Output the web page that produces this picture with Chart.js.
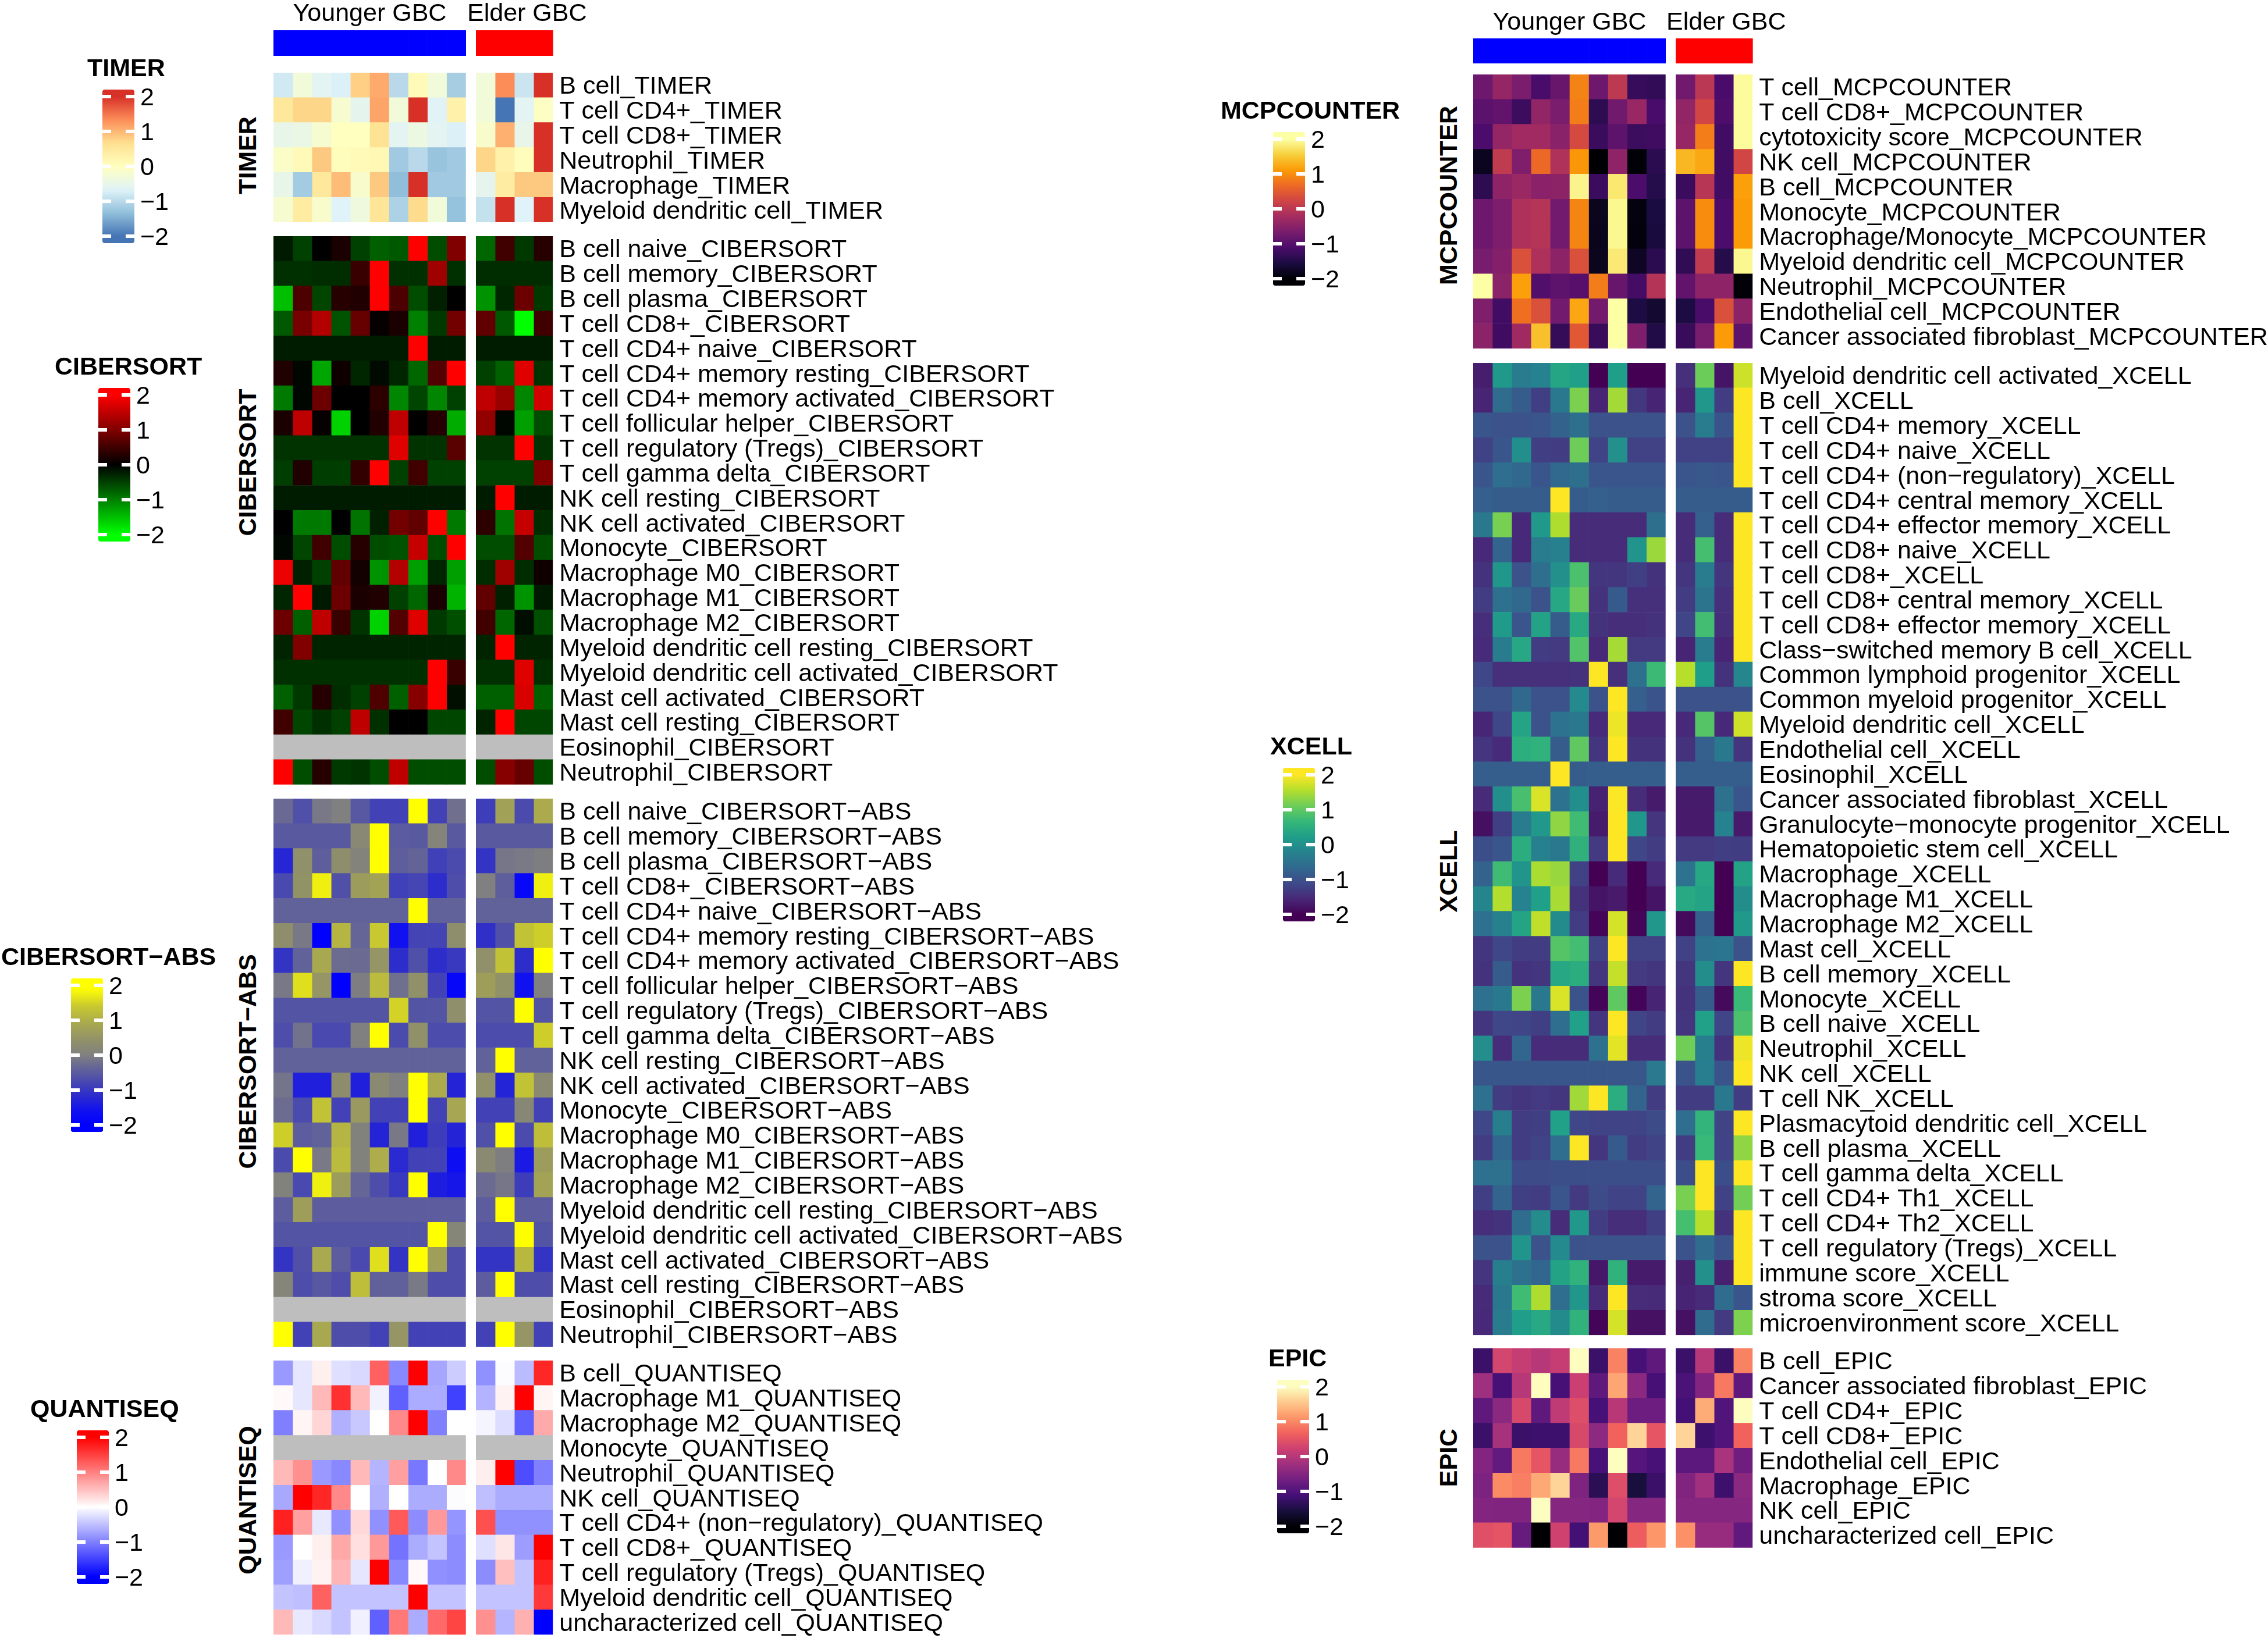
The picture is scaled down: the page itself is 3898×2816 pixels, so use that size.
<!DOCTYPE html>
<html>
<head>
<meta charset="utf-8">
<script src="https://cdn.jsdelivr.net/npm/chart.js@4"></script>
<style>
  html, body { margin: 0; background: #fff; width: 3898px; height: 2816px; overflow: hidden; }
  canvas { position: absolute; }
  .side { position: absolute; font: bold 43px "Liberation Sans"; white-space: nowrap; color: #000;
          transform: translate(-50%, -50%) rotate(-90deg); }
</style>
</head>
<body>
<script>
// ── data ─────────────────────────────────────────────────────────────────────
// z-scores, 10 Younger GBC columns then 4 Elder GBC columns. null = no data (grey).
const legendTicks = [2, 1, 0, -1, -2];

const timerCells = ['B cell', 'T cell CD4+', 'T cell CD8+', 'Neutrophil', 'Macrophage', 'Myeloid dendritic cell'];
const timerValues = [
  [-.8, -.3, -.6, -.7, .8, 1.1, -1, .1, -.3, -1.15, -.3, 1.33, -.85, 2],
  [.5, .75, .75, -.2, -.55, 1.15, -.3, 2, -.65, .3, -.3, -2, -.6, -.05],
  [-.5, -.45, -.2, 0, 0, .6, -.6, -.4, -.6, -.7, -.15, 1.05, -.5, 2],
  [-.1, .1, .85, .05, .1, .15, -1.2, -1, -1.27, -1.2, .75, .3, .05, 2],
  [-.5, -1.18, .5, .95, -.15, .85, -1.33, 2, -1.2, -1.2, -.55, .4, .85, .85],
  [-.2, .4, -.15, -.67, -.35, .55, -1.1, .7, -.3, -1.3, -.9, 2, -.67, 2],
];

const cibersortCells = ['B cell naive', 'B cell memory', 'B cell plasma', 'T cell CD8+', 'T cell CD4+ naive',
  'T cell CD4+ memory resting', 'T cell CD4+ memory activated', 'T cell follicular helper',
  'T cell regulatory (Tregs)', 'T cell gamma delta', 'NK cell resting', 'NK cell activated', 'Monocyte',
  'Macrophage M0', 'Macrophage M1', 'Macrophage M2', 'Myeloid dendritic cell resting',
  'Myeloid dendritic cell activated', 'Mast cell activated', 'Mast cell resting', 'Eosinophil', 'Neutrophil'];
const naRow = Array(14).fill(null);
const cibersortValues = [
  [-.2, -.5, 0, .2, -.5, -.75, -.7, 2, -.6, 1, -.8, .5, -.45, .3],
  [-.38, -.38, -.35, -.35, .45, 2, -.38, -.38, 1.25, -.38, -.35, -.35, -.35, -.35],
  [-1.5, .6, -.55, .3, .25, 2, .6, -.6, -.25, 0, -1.15, -.3, .85, -.45],
  [-.7, .95, 1.4, -.65, .8, .05, .2, -1, -.45, .9, .75, -.7, -2, .5],
  [-.22, -.22, -.22, -.22, -.22, -.22, -.22, 2, -.22, -.22, -.22, -.22, -.22, -.22],
  [.25, -.05, -1.3, .12, -.3, -.08, -.3, -.8, .65, 2, -.5, -.75, 1.75, -.4],
  [-.95, -.05, .85, 0, 0, .35, -1.05, -.55, -1.05, -.5, 1.5, 1.2, -1.05, 1.65],
  [.2, 1.5, .05, -1.65, 0, .25, 1.5, 0, .3, -1.35, 1.15, -.05, -1.25, -.6],
  [-.4, -.4, -.4, -.4, -.4, -.4, 1.75, -.4, -.4, .7, -.4, -.4, 2, -.4],
  [-.48, .25, -.48, -.48, .4, 2, -.5, .5, -.5, -.5, -.5, -.5, -.5, 1],
  [-.22, -.22, -.22, -.22, -.22, -.22, -.22, -.22, -.22, -.22, -.22, 2, -.22, -.22],
  [0, -.95, -.95, 0, -.9, -.25, .9, .75, 2, -.95, .35, -.9, 1.55, -.35],
  [-.05, -.55, .5, -.6, .3, -.6, -.65, 1.55, -.6, 2, -.6, -.6, .65, -.6],
  [1.85, -.25, -.5, .75, .15, -1.15, 1.4, -1.25, -.3, -1.25, -.35, 1.25, -.35, .12],
  [-.3, 2, -.2, .85, .2, .25, -.5, -.8, .2, -1.4, .75, -.25, -1.15, -.2],
  [.85, -.75, 1.5, .45, -.4, -1.65, .65, 1.75, -.45, -.62, .5, -.8, -.1, -.62],
  [-.28, 1, -.28, -.28, -.28, -.28, -.28, -.28, -.28, -.28, -.28, 2, -.28, -.28],
  [-.38, -.38, -.38, -.38, -.38, -.38, -.38, -.38, 2, .45, -.38, -.38, 1.75, -.38],
  [-.75, -.45, .3, -.35, -.5, .62, -.75, 1.05, 2, -.12, -.75, -.75, 1.7, -.75],
  [.5, -.55, -.38, -.5, 1.5, -.38, 0, 0, -.55, -.55, -.28, 2, -.55, -.55],
  naRow,
  [2, -.6, .3, -.45, -.4, -.6, 1.5, -.6, -.6, -.6, -.6, 1.05, .8, -.6],
];
const cibersortAbsValues = [
  [-.3, -.65, -.1, 0, -.55, -.85, -.85, 2, -.85, -.2, -.9, .75, -.72, .95],
  [-.52, -.52, -.52, -.52, .2, 2, -.5, -.52, .1, -.52, -.52, -.52, -.52, -.52],
  [-1.25, .4, -.45, .35, .08, 2, -.45, -.38, -.88, -.72, -1.05, -.12, -.08, -.02],
  [-.75, .45, 1.75, -.65, .65, .8, -.88, -.8, -1.15, -.68, 0, -.45, -1.8, 1.75],
  [-.4, -.4, -.4, -.4, -.4, -.4, -.4, 2, -.4, -.4, -.4, -.4, -.4, -.4],
  [.35, -.1, -2, 1.1, -.35, 1.4, -1.6, -.82, -.82, .35, -1.1, -.65, 1.3, 1.45],
  [-1.05, -.4, .9, -.25, -.28, .5, -1.15, -.65, -1.15, -.98, .4, 1.3, -1.15, 2],
  [-.1, 1.6, .5, -2, -.03, 1.2, -.22, .42, -.85, -1.85, .7, .42, -1.6, 0],
  [-.6, -.6, -.6, -.6, -.6, -.6, 1.5, -.6, -.6, .38, -.6, -.6, 2, -.6],
  [-.68, -.18, -.75, -.75, 0, 2, -.72, .42, -.7, -.7, -.7, -.7, -.7, 1.45],
  [-.4, -.4, -.4, -.4, -.4, -.4, -.4, -.4, -.4, -.4, -.4, 2, -.4, -.4],
  [-.15, -1.35, -1.35, .32, -1.35, .25, 0, 2, .95, -1.28, .4, -1.3, 1.3, .25],
  [-.25, -.72, 1.3, -.85, .6, -.85, -.85, 2, -.85, .85, -.85, -.85, .18, -.85],
  [1.45, -.48, -.4, 1.1, .05, -1.28, -.1, -1.35, -.92, -1.28, -.65, 2, -.72, 1.25],
  [-.72, 2, -.08, 1.2, .05, .98, -1.2, -.85, -.85, -1.65, .25, -.02, -1.45, .65],
  [.05, -.75, 1.75, .65, -.35, -.68, -.98, 2, -1.4, -1.5, -.28, -.12, -.92, .8],
  [-.48, .7, -.48, -.48, -.48, -.48, -.48, -.48, -.48, -.48, -.48, 2, -.48, -.48],
  [-.6, -.6, -.6, -.6, -.6, -.6, -.6, -.6, 2, .15, -.6, -.6, 2, -.6],
  [-1.05, -.65, .92, -.48, -.75, 1.6, -1.05, 2, .72, -.68, -1.05, -1.05, 1.15, -1.05],
  [.12, -.68, -.55, -.68, 1.25, -.42, -.42, -.08, -.68, -.68, -.48, 2, -.68, -.68],
  naRow,
  [2, -.85, .9, -.68, -.68, -.85, .5, -.85, -.85, -.85, -.85, 2, .5, -.85],
];

const quantiseqCells = ['B cell', 'Macrophage M1', 'Macrophage M2', 'Monocyte', 'Neutrophil', 'NK cell',
  'T cell CD4+ (non\u2212regulatory)', 'T cell CD8+', 'T cell regulatory (Tregs)', 'Myeloid dendritic cell',
  'uncharacterized cell'];
const quantiseqValues = [
  [-.8, -.2, .12, -.25, -.3, 1.25, -.93, 2, -.7, -.4, -.87, -.02, -.53, 1.7],
  [.05, -.2, .55, 1.62, .55, -.1, -1.25, -.66, -.66, -1.5, -.6, .1, 2, .08],
  [-1, .08, .33, -.62, -.43, 0, .93, 2, -1, 0, -.08, -.27, -1.25, .67],
  naRow,
  [.55, .87, -.8, -.93, .55, -.58, .75, -1.07, 0, .93, .13, 2, -1.4, -1],
  [-.68, 2, 1.7, .93, 0, -.62, 0, -.65, -.65, -.02, -.5, -.65, -.65, -.65],
  [1.75, .75, -.18, -.87, .3, -.87, 1.3, -.9, .8, -.83, 1.37, -.87, -.87, -.87],
  [-.8, 0, .12, .68, .25, .8, -1.1, -.65, -.47, -.9, -.25, .2, -.77, 2],
  [-.75, -.12, .1, .58, -.2, 2, -.93, .05, -.87, -.9, -.9, .5, -.47, 1.75],
  [-.47, -.5, 1.25, -.47, -.47, -.47, -.47, 2, -.47, -.47, -.47, -.47, -.47, 1.55],
  [.55, -.18, -.3, -.47, -.12, -1.25, 1.05, -.65, 1.18, 1.47, .87, -.58, .62, -2],
];

const mcpcounterCells = ['T cell', 'T cell CD8+', 'cytotoxicity score', 'NK cell', 'B cell', 'Monocyte',
  'Macrophage/Monocyte', 'Myeloid dendritic cell', 'Neutrophil', 'Endothelial cell',
  'Cancer associated fibroblast'];
const mcpcounterValues = [
  [-.77, -.38, -.65, -1.12, -.82, .9, -.78, .02, -1.3, -1.33, -.75, 0, -1.12, 1.97],
  [-.95, -.88, -1.25, -.42, -.65, .85, -1.38, -.75, -.35, -1.12, -.42, .25, -1.07, 1.97],
  [-1.1, -.38, -.27, -.27, -.5, .3, -1.26, -.93, -1.25, -1.22, -.37, .85, -1.2, 1.97],
  [-1.8, .05, -.6, .65, -.12, 1.08, -2, -.45, -1.97, -1.4, 1.35, 1.23, -1.2, .25],
  [-1.38, -.45, -.33, -.5, -.47, 1.9, -1.26, 1.78, -1.1, -1.46, -1.26, -.03, -1.2, 1.15],
  [-.77, -.62, -.13, -.05, -.73, .92, -1.82, 1.92, -1.93, -1.57, -.93, .98, -1.1, 1.12],
  [-.78, -.62, -.13, -.05, -.73, .92, -1.83, 1.92, -1.95, -1.58, -.93, .98, -1.1, 1.12],
  [-.67, -.55, .37, -.13, -.47, .37, -1.82, 1.8, -1.77, -1.4, -1.37, .05, -1.46, 1.92],
  [2, -.48, 1.15, -1.05, -.93, -1, .85, -.82, -1.18, -.07, -.88, -.45, -.45, -1.97],
  [-.6, -1.2, .72, .37, -.73, 1.22, -.72, 2, -1.55, -1.68, -1.55, -1.13, .37, -.47],
  [-.48, -1.22, -.28, 1.42, -1.32, .47, -1.28, 2, -.6, -1.5, -1.28, -.67, 1.12, -.93],
];

const xcellCells = ['Myeloid dendritic cell activated', 'B cell', 'T cell CD4+ memory', 'T cell CD4+ naive',
  'T cell CD4+ (non\u2212regulatory)', 'T cell CD4+ central memory', 'T cell CD4+ effector memory',
  'T cell CD8+ naive', 'T cell CD8+', 'T cell CD8+ central memory', 'T cell CD8+ effector memory',
  'Class\u2212switched memory B cell', 'Common lymphoid progenitor', 'Common myeloid progenitor',
  'Myeloid dendritic cell', 'Endothelial cell', 'Eosinophil', 'Cancer associated fibroblast',
  'Granulocyte\u2212monocyte progenitor', 'Hematopoietic stem cell', 'Macrophage', 'Macrophage M1', 'Macrophage M2',
  'Mast cell', 'B cell memory', 'Monocyte', 'B cell naive', 'Neutrophil', 'NK cell', 'T cell NK',
  'Plasmacytoid dendritic cell', 'B cell plasma', 'T cell gamma delta', 'T cell CD4+ Th1', 'T cell CD4+ Th2',
  'T cell regulatory (Tregs)', 'immune score', 'stroma score', 'microenvironment score'];
const xcellValues = [
  [-1.68, .15, -.35, -.22, .35, .25, -2, .22, -2, -2, -1.45, 1.1, -1.78, 1.7],
  [-1.6, -.6, -.85, -1.25, -.4, 1.2, -1.6, 1.45, -1.35, -1.6, -1.6, .1, -1.3, 2],
  [-.95, -1, -1, -.95, -.75, -.55, -1, -1, -1, -1, -1, -.35, -.97, 2],
  [-1.22, -.95, -.02, -1.25, -1.28, 1.12, -1.2, 0, -1.22, -1.22, -1.22, -1.22, -1.22, 2],
  [-.95, -.57, -.67, -.95, -.67, -.55, -.95, -.95, -.95, -.95, -.95, -.92, -.95, 2],
  [-.8, -.85, -.85, -.85, 2, -.85, -.8, -.85, -.85, -.85, -.85, -.85, -.85, -.85],
  [-.4, 1.18, -1.56, .15, 1.52, -1.5, -1.5, -1.5, -1.5, -.55, -1.5, -.8, -1.5, 2],
  [-1.55, -.72, -1.56, -.32, -.25, -1.5, -1.5, -1.5, .08, 1.4, -1.5, .8, -1.5, 2],
  [-1.42, .1, -1, -.55, 0, .85, -1.38, -1.38, -1.25, -1.42, -1.38, -.33, -1.38, 2],
  [-1.28, -.52, -.67, -1, .38, 1.08, -1.42, -.88, -1.45, -1.45, -1.28, -.47, -1.45, 2],
  [-1.48, .17, -.95, .3, -.85, .42, -1.42, -1.48, -1.48, -1.42, -1.17, .78, -1.48, 2],
  [-1.53, -.35, .38, -1.28, -1.32, .9, -1.56, 1.47, -1.32, -1.32, -1.6, -.33, -1.6, 2],
  [-1.15, -1.47, -1.47, -1.47, -1.47, -1.42, 2, -1.47, -.52, .72, 1.58, .22, -1.42, -.15],
  [-1, -1, -.67, -1, -1, -.1, -1, 2, -.8, -.97, -1, -1, -1, -1],
  [-1.58, -1.15, .32, -1, -.5, -.4, -1.53, 1.9, -1.55, -1.55, -1.55, .92, -1.55, 1.72],
  [-1.4, -1.53, .5, .58, -.85, 1, -1.38, 2, -1.42, -1.42, -1.42, -.8, -.4, -1.38],
  [-.82, -.82, -.82, -.82, 2, -.85, -.82, -.82, -.82, -.82, -.82, -.82, -.82, -.82],
  [-1.52, -.02, .82, 1.78, -.5, -.02, -1.63, 1.98, -1.5, -1.7, -1.7, -1.7, -.52, -.95],
  [-1.83, -1.25, -.33, .12, 1.33, .75, -1.7, 2, .1, -1.4, -1.72, -1.72, -.22, -1.72],
  [-1.05, -.95, .48, -.25, -.4, .55, -1.32, 2, -1.15, -1.28, -1.32, -1.32, -1.27, -1.28],
  [-.75, .75, .08, 1.5, 1.38, -1.22, -2, -1.53, -2, -1.53, -.5, .38, -2, .3],
  [-.17, 1.55, -.22, .25, 1.48, -1.42, -1.78, -1.72, -2, -1.78, .4, .33, -2, -.05],
  [-.52, -.25, .32, 1.62, -.08, -1.3, -1.95, 1.75, -1.95, .1, -1.9, -.8, -2, .15],
  [-1.38, -1.15, -1.28, -1.28, .92, .78, -1.22, 2, -1.22, -1.22, -1.22, -.5, -.42, -1],
  [-1.42, -.85, -1.42, -1.38, .38, .48, -1.38, 1.65, -1.32, -1.38, -1.38, -.05, -1.38, 2],
  [-.52, -.4, 1.2, -.4, 1.78, -.97, -1.95, 1, -1.95, -1.6, -1.42, -.85, -1.9, .7],
  [-1.38, -1.15, -1.17, -1.25, -.57, .27, -1.38, 2, -1.17, -1.3, -1.38, .27, -1.17, .85],
  [-.03, -1.5, -.7, -1.5, -1.5, -1.5, -.52, 1.85, -1.5, -1.5, 1.13, -.27, -1.42, 1.9],
  [-.93, -.93, -.93, -.93, -.93, -.93, -.93, -.93, -.93, -.38, -.97, -.3, -.97, 2],
  [-.52, -1.28, -1.38, -1.32, -1.38, 1.43, 2, .48, -.72, -1.3, -1.3, -1.3, -.4, -1.28],
  [-1.15, -.27, -1.28, -1.25, .27, -1.15, -1.2, -1.2, -1.2, -1.08, -.57, .62, -1.2, 2],
  [-1.3, -.68, -1.3, -1.2, -.57, 2, -1.38, -.88, -1.28, -1.2, -1.28, .7, -1.2, 1.33],
  [-.52, -.52, -1.08, -1.08, -1.05, -1.05, -1.05, -1.05, -1.05, -1.05, -1.05, 2, -1.05, 2],
  [-1.25, -.72, -1.25, -1.28, -.95, -1.32, -1.1, -1.2, -1.2, -.72, 1.18, 2, -1.22, 1.15],
  [-1.48, -1.42, -.6, -.07, -1.5, .13, -1.28, -1.48, -1.48, -1.25, .8, 1.58, -1.42, 2],
  [-1, -1, .08, -1, -.1, -1, -1, -1, -1, -1, -1, -.6, -1, 2],
  [-1.4, -.27, -.52, -.68, .3, .58, -1.75, .58, -1.7, -1.7, -1.65, 0, -1.65, 2],
  [-1.52, -.4, .75, 1.52, -.57, .1, -1.52, 2, -1.5, -1.52, -1.6, -1.52, -.6, -.95],
  [-1.55, -.33, .22, .4, -.08, .58, -1.95, 1.75, -1.82, -1.82, -1.82, -.6, -1.32, 1.22],
];

const epicCells = ['B cell', 'Cancer associated fibroblast', 'T cell CD4+', 'T cell CD8+', 'Endothelial cell',
  'Macrophage', 'NK cell', 'uncharacterized cell'];
const epicValues = [
  [-1.22, .3, .15, 0, .15, 2, -1.22, .95, -1.1, -.85, -1.22, 0, -1.22, .95],
  [-.22, -1.1, 0, 2, -1.1, .2, -.85, 1.25, -.42, -1.1, -1.05, -.5, .88, -.85],
  [-.85, -.42, .35, -.85, .08, .42, -1.1, .02, -.72, -.72, -1.13, 1.3, -1, 2],
  [-1.22, -.15, -1.22, -1.2, -1.18, .35, -.4, .68, 1.65, .52, 1.65, -1.2, -1, .68],
  [-.5, -.82, .88, .52, -.3, .88, -1.08, 2, -.95, -1.08, -.88, -.88, -.13, -.7],
  [-.57, 1.03, .93, 1.28, 1.65, -.55, -1.38, .42, -1.56, -1.22, -.53, -.2, -1.2, -.42],
  [-.5, -.52, -.52, 2, -.48, -.48, -.5, .3, -.48, -.48, -.48, -.48, -.48, -.48],
  [.45, .5, -.78, -2, .25, -1.13, 1.15, -2, .62, 1.12, 1.07, -.3, -.3, -.83],
];

// ── colour ramps ─────────────────────────────────────────────────────────────
const FONT = '"Liberation Sans"';
const even = cols => cols.map((c, i) => [-2 + 4 * i / (cols.length - 1), c]);
const rampTimer = even(['#4575B4', '#91BFDB', '#E0F3F8', '#FFFFBF', '#FEE090', '#FC8D59', '#D73027']);
const rampCibersort = even(['#00FF00', '#000000', '#FF0000']);
const rampAbs = [[-2, '#0000FF'], [-1.6, '#1010F0'], [-1.1, '#3030C8'], [-.65, '#5050A8'], [-.2, '#70708E'],
  [0, '#808080'], [.4, '#90906A'], [.9, '#A8A850'], [1.4, '#C8C830'], [1.75, '#F0F010'], [1.95, '#FFFF00']];
const rampQuanti = even(['#0000FF', '#FFFFFF', '#FF0000']);
const rampInferno = even(['#000004', '#1B0C42', '#4B0C6B', '#781C6D', '#A52C60', '#CF4446', '#ED6925', '#FB9A06', '#F7D03C', '#FCFFA4']);
const rampViridis = even(['#440154', '#482878', '#3E4A89', '#31688E', '#26828E', '#1F9E89', '#35B779', '#6DCD59', '#B4DE2C', '#FDE725']);
const rampMagma = even(['#000004', '#180F3E', '#451077', '#721F81', '#9F2F7F', '#CD4071', '#F1605D', '#FD9567', '#FEC98D', '#FCFDBF']);

function colourAt(ramp, v) {
  if (v === null) return '#BEBEBE';
  if (v <= ramp[0][0]) return ramp[0][1];
  for (let i = 1; i < ramp.length; i++) {
    if (v <= ramp[i][0]) {
      const t = (v - ramp[i - 1][0]) / (ramp[i][0] - ramp[i - 1][0]);
      const a = ramp[i - 1][1], b = ramp[i][1];
      const mix = k => {
        const x = parseInt(a.substr(k, 2), 16), y = parseInt(b.substr(k, 2), 16);
        return Math.round(x + (y - x) * t);
      };
      return `rgb(${mix(1)},${mix(3)},${mix(5)})`;
    }
  }
  return ramp[ramp.length - 1][1];
}

// ── helpers ──────────────────────────────────────────────────────────────────
const ROW_H = 42.85, CELL_W = 33.07, LABEL_W = 1040, LABEL_FONT = 43;

function addCanvas(x, y, w, h) {
  const cv = document.createElement('canvas');
  cv.width = Math.ceil(w);
  cv.height = Math.ceil(h);
  cv.style.left = x + 'px';
  cv.style.top = y + 'px';
  document.body.appendChild(cv);
  return cv;
}

// Keeps an axis to a set width, and stops it eating into the plot for its end labels.
const fixedWidth = w => s => { s.width = w; s.paddingTop = 0; s.paddingBottom = 0; };
const blank = { display: false };

// One heatmap block: stacked horizontal bars, one dataset per column, the row labels are the y axis.
function heatBlock(x, y, labels, rows, ramp, labelled) {
  const pad = 8, areaW = rows[0].length * CELL_W, areaH = labels.length * ROW_H;
  const cv = addCanvas(x, y - pad, labelled ? areaW + LABEL_W : areaW, areaH + 2 * pad);
  new Chart(cv, {
    type: 'bar',
    data: {
      labels,
      datasets: rows[0].map((_, j) => ({
        data: labels.map(() => 1),
        backgroundColor: rows.map(r => colourAt(ramp, r[j])),
        borderWidth: 0,
        barPercentage: 1,
        categoryPercentage: 1,
      })),
    },
    options: {
      indexAxis: 'y',
      responsive: false,
      animation: false,
      devicePixelRatio: 1,
      events: [],
      layout: { padding: { top: pad, bottom: cv.height - pad - areaH, right: labelled ? 0 : cv.width - areaW } },
      plugins: { legend: blank, tooltip: { enabled: false } },
      scales: {
        x: { display: false, stacked: true, min: 0, max: rows[0].length },
        y: labelled ? {
          position: 'right',
          stacked: true,
          afterFit: fixedWidth(cv.width - areaW),
          border: blank,
          grid: { display: false, drawTicks: false },
          ticks: { autoSkip: false, padding: 11, labelOffset: 3, color: '#000', font: { family: FONT, size: LABEL_FONT } },
        } : { display: false, stacked: true },
      },
    },
  });
}

function panel(left, top, labels, values, ramp) {
  heatBlock(left, top, labels, values.map(r => r.slice(0, 10)), ramp, false);
  heatBlock(left + 348, top, labels, values.map(r => r.slice(10)), ramp, true);
}

// Group bar above a column of panels, the group name is the chart title.
function groupBar(textLeft, barLeft, nCols, colour, text, barTop, barBottom, titleTop, centred) {
  const lead = barLeft - textLeft;
  const w = centred ? nCols * CELL_W : 320;
  const cv = addCanvas(textLeft, 0, w, barBottom);
  new Chart(cv, {
    type: 'bar',
    data: {
      labels: [text],
      datasets: Array.from({ length: nCols }, () => ({
        data: [1], backgroundColor: colour, borderWidth: 0, barPercentage: 1, categoryPercentage: 1,
      })),
    },
    options: {
      indexAxis: 'y',
      responsive: false,
      animation: false,
      devicePixelRatio: 1,
      events: [],
      plugins: {
        legend: blank,
        tooltip: { enabled: false },
        title: {
          display: true,
          text,
          align: centred ? 'center' : 'start',
          color: '#000',
          font: { family: FONT, size: 43, weight: 'normal', lineHeight: 1 },
          padding: { top: titleTop, bottom: barTop - 43 - titleTop },
        },
      },
      scales: {
        // the canvas runs past the bar for the title, so the axis runs past it too
        x: { display: false, stacked: true, min: 0, max: (cv.width - lead) / CELL_W },
        y: {
          stacked: true,
          position: 'left',
          afterFit: fixedWidth(lead),
          display: lead > 0,
          border: blank,
          grid: blank,
          ticks: blank,
        },
      },
    },
  });
}

// Colour key: one floating bar filled with the ramp, ticks on the right, white dashes from the grid.
function colourKey(titleLeft, barLeft, tickTop, text, ramp) {
  const w = 440, barW = 55, head = 61, barH = 264;
  const lead = barLeft - titleLeft;
  const cv = addCanvas(titleLeft, tickTop - 12 - head, w, head + barH + 24);
  new Chart(cv, {
    type: 'bar',
    data: {
      labels: [text],
      datasets: [{
        yAxisID: 'y',
        data: [[-2.2, 2.2]],
        borderWidth: 0,
        borderRadius: 5,
        borderSkipped: false,
        barPercentage: 1,
        categoryPercentage: 1,
        backgroundColor: ctx => {
          const area = ctx.chart.chartArea;
          if (!area) return '#808080';
          const scale = ctx.chart.scales.y;
          const g = ctx.chart.ctx.createLinearGradient(0, scale.getPixelForValue(-2.2), 0, scale.getPixelForValue(2.2));
          for (let i = 0; i <= 44; i++) g.addColorStop(i / 44, colourAt(ramp, -2.2 + i / 10));
          return g;
        },
      }],
    },
    options: {
      responsive: false,
      animation: false,
      devicePixelRatio: 1,
      events: [],
      layout: { padding: { bottom: 24 } },
      plugins: {
        legend: blank,
        tooltip: { enabled: false },
        title: {
          display: true,
          text,
          align: 'start',
          color: '#000',
          font: { family: FONT, size: 43, weight: 'bold', lineHeight: 1 },
          padding: { top: 5, bottom: head - 48 },
        },
      },
      scales: {
        x: { display: false },
        lead: {
          position: 'left',
          afterFit: fixedWidth(lead),
          border: blank,
          grid: blank,
          ticks: blank,
        },
        y: {
          position: 'right',
          min: -2.2,
          max: 2.2,
          afterFit: fixedWidth(w - lead - barW),
          border: { display: false, dash: [15, 25] },
          grid: { color: '#fff', lineWidth: 6, z: 1, drawTicks: false },
          afterBuildTicks: s => { s.ticks = legendTicks.map(value => ({ value })); },
          ticks: {
            padding: 10,
            labelOffset: 3,
            color: '#000',
            font: { family: FONT, size: 43 },
            callback: v => (v < 0 ? '\u2212' + Math.abs(v) : String(v)),
          },
        },
      },
    },
  });
}

function sideTitle(x, y, text) {
  const d = document.createElement('div');
  d.className = 'side';
  d.style.left = x + 'px';
  d.style.top = y + 'px';
  d.textContent = text;
  document.body.appendChild(d);
}

const withSuffix = (cells, suffix) => cells.map(c => c + '_' + suffix);

// ── left column ──────────────────────────────────────────────────────────────
groupBar(470, 470, 10, '#0000FF', 'Younger GBC', 52, 96, 3, true);
groupBar(803, 818, 4, '#FF0000', 'Elder GBC', 52, 96, 3, false);
panel(470, 125, withSuffix(timerCells, 'TIMER'), timerValues, rampTimer);
panel(470, 406, withSuffix(cibersortCells, 'CIBERSORT'), cibersortValues, rampCibersort);
panel(470, 1373, withSuffix(cibersortCells, 'CIBERSORT\u2212ABS'), cibersortAbsValues, rampAbs);
panel(470, 2339, withSuffix(quantiseqCells, 'QUANTISEQ'), quantiseqValues, rampQuanti);

sideTitle(425, 267, 'TIMER');
sideTitle(425, 795, 'CIBERSORT');
sideTitle(425, 1825, 'CIBERSORT\u2212ABS');
sideTitle(425, 2579, 'QUANTISEQ');

colourKey(150, 176, 166, 'TIMER', rampTimer);
colourKey(94, 169, 679, 'CIBERSORT', rampCibersort);
colourKey(2, 122, 1694, 'CIBERSORT\u2212ABS', rampAbs);
colourKey(52, 132, 2471, 'QUANTISEQ', rampQuanti);

// ── right column ─────────────────────────────────────────────────────────────
groupBar(2532, 2532, 10, '#0000FF', 'Younger GBC', 66, 109, 18, true);
groupBar(2864, 2880, 4, '#FF0000', 'Elder GBC', 66, 109, 18, false);
panel(2532, 128, withSuffix(mcpcounterCells, 'MCPCOUNTER'), mcpcounterValues, rampInferno);
panel(2532, 624, withSuffix(xcellCells, 'XCELL'), xcellValues, rampViridis);
panel(2532, 2318, withSuffix(epicCells, 'EPIC'), epicValues, rampMagma);

sideTitle(2489, 336, 'MCPCOUNTER');
sideTitle(2489, 1498, 'XCELL');
sideTitle(2489, 2506, 'EPIC');

colourKey(2098, 2188, 239, 'MCPCOUNTER', rampInferno);
colourKey(2183, 2205, 1332, 'XCELL', rampViridis);
colourKey(2180, 2195, 2384, 'EPIC', rampMagma);
</script>
</body>
</html>
